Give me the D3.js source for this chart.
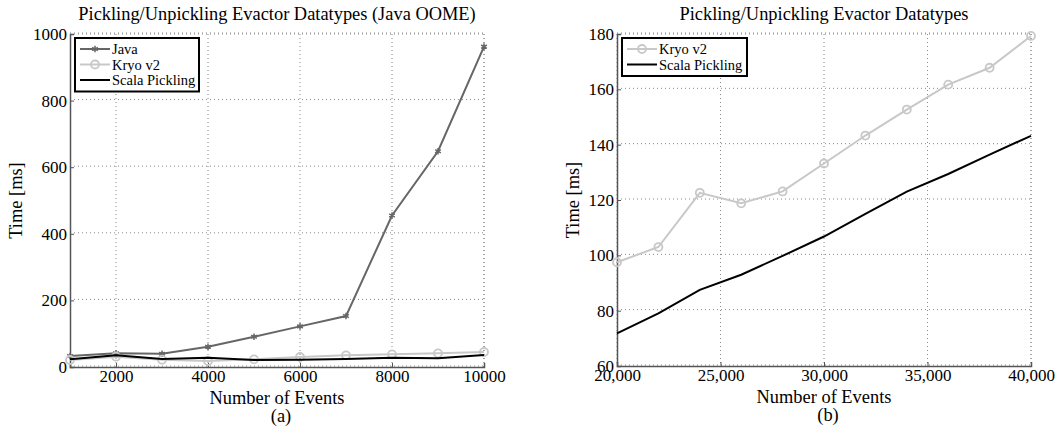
<!DOCTYPE html>
<html>
<head>
<meta charset="utf-8">
<script src="https://cdn.jsdelivr.net/npm/d3@7"></script>
<style>
  body { margin: 0; background: #fff; }
  text { font-family: "Liberation Serif", "Times New Roman", serif; fill: #000; }
</style>
</head>
<body>
<div id="chart"></div>
<script>
// Data
var eventsA = [1000, 2000, 3000, 4000, 5000, 6000, 7000, 8000, 9000, 10000];
var javaA = [33, 41, 40, 61, 91, 122, 153, 455, 648, 962];
var kryoA = [21, 31, 22, 18, 23, 30, 35, 38, 41, 45];
var scalaA = [23, 35, 24, 28, 21, 22, 24, 28, 26, 36];

var eventsB = [20000, 22000, 24000, 26000, 28000, 30000, 32000, 34000, 36000, 38000, 40000];
var kryoB = [97.5, 103, 122.6, 118.8, 123.1, 133.2, 143.3, 152.7, 161.7, 167.8, 179.3];
var scalaB = [71.8, 79, 87.5, 93, 99.8, 106.8, 115, 123, 129.4, 136.4, 143.2];

var xTicksA = [2000, 4000, 6000, 8000, 10000];
var yTicksA = [0, 200, 400, 600, 800, 1000];
var xTicksB = [20000, 25000, 30000, 35000, 40000];
var yTicksB = [60, 80, 100, 120, 140, 160, 180];

var colors = { java: "#666666", kryo: "#c8c8c8", scala: "#000000" };

var svg = d3.select("#chart")
  .append("svg")
  .attr("width", 1057)
  .attr("height", 432);

function drawPanel(opts) {
  var w = opts.right - opts.left;
  var h = opts.bottom - opts.top;
  var g = svg.append("g").attr("transform", `translate(${opts.left}, ${opts.top})`);

  var x = d3.scaleLinear().domain(opts.xDomain).range([0, w]);
  var y = d3.scaleLinear().domain(opts.yDomain).range([h, 0]);

  // dotted grid
  var grid = g.append("g")
    .attr("stroke", "#888")
    .attr("stroke-width", 1)
    .attr("stroke-dasharray", "1,3");
  grid.selectAll(".vg").data(opts.xTicks).enter().append("line")
    .attr("x1", d => x(d)).attr("x2", d => x(d))
    .attr("y1", 0).attr("y2", h);
  grid.selectAll(".hg").data(opts.yTicks).enter().append("line")
    .attr("x1", 0).attr("x2", w)
    .attr("y1", d => y(d) - 1).attr("y2", d => y(d) - 1);
  grid.append("line").attr("x1", w).attr("x2", w).attr("y1", 0).attr("y2", h);
  grid.append("line").attr("x1", 0).attr("x2", w).attr("y1", 0).attr("y2", 0);

  // axes
  var xAxis = g.append("g")
    .attr("transform", `translate(0, ${h})`)
    .call(d3.axisBottom(x).tickValues(opts.xTicks).tickSize(-4).tickPadding(6).tickFormat(opts.xFormat));
  var yAxis = g.append("g")
    .call(d3.axisLeft(y).tickValues(opts.yTicks).tickSize(-4).tickPadding(3).tickFormat(d3.format("d")));
  [xAxis, yAxis].forEach(function(a) {
    a.select(".domain").attr("stroke", "#555").attr("stroke-width", 1.5);
    a.selectAll(".tick line").attr("stroke", "#555");
    a.selectAll("text").attr("font-size", "17px").attr("fill", "#000");
  });
  xAxis.selectAll("text").attr("dy", "0.5em");

  opts.series.forEach(function(s) {
    var pts = opts.xs.map((v, i) => [v, s.values[i]]);
    g.append("path")
      .datum(pts)
      .attr("fill", "none")
      .attr("stroke", s.color)
      .attr("stroke-width", 2)
      .attr("d", d3.line().x(d => x(d[0])).y(d => y(d[1])));
    if (s.marker === "circle") {
      g.selectAll(null).data(pts).enter().append("circle")
        .attr("cx", d => x(d[0])).attr("cy", d => y(d[1]))
        .attr("r", 4)
        .attr("fill", "none")
        .attr("stroke", s.color)
        .attr("stroke-width", 1.8);
    } else if (s.marker === "star") {
      g.selectAll(null).data(pts).enter().append("path")
        .attr("transform", d => `translate(${x(d[0])}, ${y(d[1])})`)
        .attr("d", d3.symbol(d3.symbolAsterisk, 30))
        .attr("fill", "none")
        .attr("stroke", s.color)
        .attr("stroke-width", 1.5);
    }
  });

  // title and labels
  g.append("text")
    .attr("x", w / 2).attr("y", -20)
    .attr("text-anchor", "middle")
    .attr("dominant-baseline", "central")
    .attr("font-size", "18.4px")
    .text(opts.title);
  g.append("text")
    .attr("x", w / 2).attr("y", h + 31)
    .attr("text-anchor", "middle")
    .attr("dominant-baseline", "central")
    .attr("font-size", "18.4px")
    .text("Number of Events");
  g.append("text")
    .attr("x", w / 2 + 4).attr("y", h + 49)
    .attr("text-anchor", "middle")
    .attr("dominant-baseline", "central")
    .attr("font-size", "18.4px")
    .text(opts.caption);
  g.append("text")
    .attr("transform", `translate(${opts.yLabelX}, ${h / 2}) rotate(-90)`)
    .attr("text-anchor", "middle")
    .attr("dominant-baseline", "central")
    .attr("font-size", "18.4px")
    .text("Time [ms]");

  // legend
  var lg = g.append("g").attr("transform", "translate(5, 4)");
  var rowH = 15.5;
  lg.append("rect")
    .attr("width", opts.legendW)
    .attr("height", opts.series.length * rowH + 7)
    .attr("fill", "#fff")
    .attr("stroke", "#000")
    .attr("stroke-width", 2);
  opts.series.forEach(function(s, i) {
    var cy = 11 + i * rowH;
    lg.append("line")
      .attr("x1", 5).attr("x2", 35).attr("y1", cy).attr("y2", cy)
      .attr("stroke", s.color).attr("stroke-width", 2);
    if (s.marker === "circle") {
      lg.append("circle").attr("cx", 20).attr("cy", cy).attr("r", 4)
        .attr("fill", "none").attr("stroke", s.color).attr("stroke-width", 1.8);
    } else if (s.marker === "star") {
      lg.append("path").attr("transform", `translate(20, ${cy})`)
        .attr("d", d3.symbol(d3.symbolAsterisk, 30))
        .attr("fill", "none").attr("stroke", s.color).attr("stroke-width", 1.5);
    }
    lg.append("text")
      .attr("x", 37).attr("y", cy)
      .attr("dominant-baseline", "central")
      .attr("font-size", "14.5px")
      .text(s.name);
  });
}

drawPanel({
  left: 70, right: 484, top: 34, bottom: 367,
  xDomain: [1000, 10000], yDomain: [0, 1000],
  xTicks: xTicksA, yTicks: yTicksA,
  xFormat: d3.format("d"),
  xs: eventsA,
  title: "Pickling/Unpickling Evactor Datatypes (Java OOME)",
  caption: "(a)",
  yLabelX: -54,
  legendW: 124,
  series: [
    { name: "Java", values: javaA, color: colors.java, marker: "star" },
    { name: "Kryo v2", values: kryoA, color: colors.kryo, marker: "circle" },
    { name: "Scala Pickling", values: scalaA, color: colors.scala, marker: null }
  ]
});

drawPanel({
  left: 617, right: 1031, top: 34, bottom: 366,
  xDomain: [20000, 40000], yDomain: [60, 180],
  xTicks: xTicksB, yTicks: yTicksB,
  xFormat: d3.format(","),
  xs: eventsB,
  title: "Pickling/Unpickling Evactor Datatypes",
  caption: "(b)",
  yLabelX: -44,
  legendW: 125,
  series: [
    { name: "Kryo v2", values: kryoB, color: colors.kryo, marker: "circle" },
    { name: "Scala Pickling", values: scalaB, color: colors.scala, marker: null }
  ]
});
</script>
</body>
</html>
